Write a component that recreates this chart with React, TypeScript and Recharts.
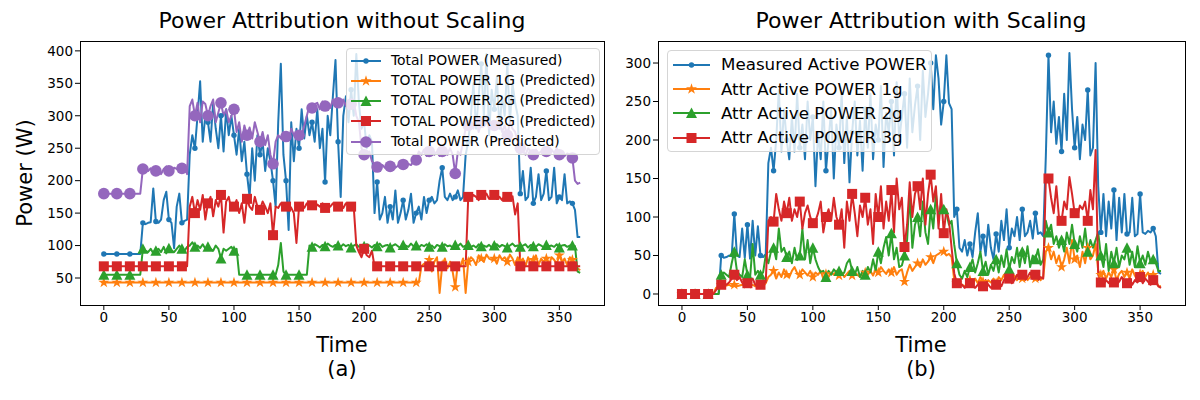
import React from 'react'
import { Line, LineChart, XAxis, YAxis } from 'recharts'

const FONT = '"DejaVu Sans", sans-serif'
const BLUE = '#1f77b4'
const ORANGE = '#ff7f0e'
const GREEN = '#2ca02c'
const RED = '#d62728'
const PURPLE = '#9467bd'

// sample grid: every 2nd time step, 0..366
const TIME = Array.from({ length: 184 }, (_, i) => i * 2)
const X_TICKS = [0, 50, 100, 150, 200, 250, 300, 350]
const LEFT_Y_TICKS = [50, 100, 150, 200, 250, 300, 350, 400]
const RIGHT_Y_TICKS = [0, 50, 100, 150, 200, 250, 300]

// ---- (a) without scaling ----
const totalMeasured = [
  87, 87, 87, 87, 87, 87, 87, 87, 87, 87,
  87, 87, 87, 87, 87, 135, 133, 135, 136, 188,
  137, 135, 140, 170, 183, 140, 135, 96, 160, 180,
  135, 138, 140, 240, 270, 250, 300, 353, 260, 300,
  290, 260, 320, 280, 250, 300, 245, 310, 270, 300,
  270, 240, 280, 230, 260, 210, 175, 250, 200, 270,
  240, 260, 215, 250, 230, 200, 160, 290, 380, 240,
  200, 124, 290, 230, 280, 250, 310, 265, 300, 270,
  290, 260, 310, 250, 280, 198, 300, 270, 330, 386,
  260, 175, 300, 330, 290, 340, 300, 395, 320, 280,
  290, 250, 270, 260, 150, 198, 140, 150, 175, 135,
  160, 140, 185, 135, 150, 170, 140, 155, 180, 135,
  150, 160, 140, 175, 150, 170, 175, 165, 170, 200,
  220, 175, 170, 180, 170, 175, 185, 170, 175, 240,
  260, 300, 350, 280, 330, 380, 300, 395, 270, 340,
  310, 360, 280, 330, 300, 380, 290, 350, 320, 300,
  180, 215, 170, 175, 220, 165, 175, 210, 170, 180,
  215, 170, 175, 220, 165, 175, 170, 210, 165, 168,
  165, 155, 113, 113,
]

const total1G = [
  43, 43, 43, 43, 43, 43, 43, 43, 43, 43,
  43, 43, 43, 43, 43, 43, 43, 43, 43, 43,
  43, 43, 43, 43, 43, 43, 43, 43, 43, 43,
  43, 43, 43, 43, 43, 43, 43, 43, 43, 43,
  43, 43, 43, 43, 43, 43, 43, 43, 43, 43,
  43, 43, 43, 43, 43, 43, 43, 43, 43, 43,
  43, 43, 43, 43, 43, 43, 43, 43, 43, 43,
  43, 43, 43, 43, 43, 43, 43, 43, 43, 43,
  43, 43, 43, 43, 43, 43, 43, 43, 43, 43,
  43, 43, 43, 43, 43, 43, 43, 43, 43, 43,
  43, 43, 43, 43, 43, 43, 43, 43, 43, 43,
  43, 43, 43, 43, 43, 43, 43, 43, 43, 43,
  43, 43, 68, 72, 65, 78, 60, 75, 82, 27,
  70, 80, 65, 75, 60, 36, 72, 68, 80, 27,
  75, 82, 78, 70, 85, 80, 75, 86, 80, 78,
  80, 72, 85, 78, 82, 75, 86, 80, 70, 82,
  75, 80, 68, 82, 72, 78, 85, 70, 80, 75,
  80, 70, 82, 78, 72, 85, 75, 80, 70, 82,
  78, 72, 65, 62,
]

const total2G = [
  55, 55, 55, 55, 55, 55, 55, 55, 55, 55,
  55, 55, 55, 55, 55, 95, 92, 90, 95, 88,
  92, 95, 90, 98, 88, 96, 92, 90, 95, 100,
  95, 92, 98, 100, 105, 98, 100, 96, 102, 95,
  98, 95, 92, 100, 95, 80, 95, 92, 95, 98,
  92, 95, 55, 55, 55, 55, 55, 55, 55, 55,
  55, 55, 55, 55, 55, 55, 55, 70, 104, 60,
  55, 55, 55, 55, 55, 55, 55, 55, 55, 100,
  98, 102, 100, 97, 101, 99, 103, 100, 98, 101,
  100, 98, 102, 99, 101, 97, 100, 102, 98, 100,
  99, 102, 100, 97, 101, 99, 103, 98, 100, 101,
  97, 100, 102, 99, 96, 101, 100, 98, 103, 99,
  100, 97, 101, 99, 102, 98, 100, 96, 101, 99,
  98, 102, 99, 100, 97, 101, 99, 103, 98, 100,
  101, 98, 100, 97, 102, 99, 100, 98, 101, 97,
  100, 102, 98, 101, 99, 97, 100, 103, 99, 100,
  98, 100, 102, 97, 101, 99, 98, 102, 100, 97,
  101, 99, 100, 98, 102, 97, 100, 101, 98, 100,
  100, 99, 60, 58,
]

const total3G = [
  68, 68, 68, 68, 68, 68, 68, 68, 68, 68,
  68, 68, 68, 68, 68, 68, 68, 68, 68, 68,
  68, 68, 68, 68, 68, 68, 68, 68, 68, 68,
  68, 68, 68, 160, 175, 150, 170, 155, 178, 140,
  165, 175, 145, 170, 160, 178, 120, 168, 175, 155,
  160, 170, 150, 165, 135, 172, 160, 155, 175, 160,
  155, 168, 160, 150, 165, 116, 160, 158, 165, 162,
  160, 163, 158, 150, 104, 160, 162, 158, 165, 160,
  162, 158, 163, 160, 165, 158, 162, 160, 165, 162,
  160, 163, 158, 165, 162, 160, 160, 100, 90, 82,
  95, 85, 82, 92, 68, 68, 68, 68, 68, 68,
  68, 68, 68, 68, 68, 68, 68, 68, 68, 68,
  68, 68, 68, 68, 68, 68, 68, 68, 68, 68,
  68, 68, 68, 68, 68, 68, 68, 68, 68, 68,
  175, 172, 178, 175, 170, 178, 175, 180, 172, 175,
  178, 172, 175, 170, 178, 175, 172, 176, 148, 165,
  68, 68, 68, 68, 68, 68, 68, 68, 68, 68,
  68, 68, 68, 68, 68, 68, 68, 68, 68, 68,
  68, 68, 68, 68,
]

const totalPredicted = [
  180, 180, 180, 180, 180, 180, 180, 180, 180, 180,
  180, 180, 180, 180, 180, 218, 217, 215, 219, 213,
  215, 220, 210, 218, 222, 215, 212, 220, 218, 217,
  219, 222, 210, 315, 325, 300, 320, 290, 322, 318,
  300, 315, 325, 290, 305, 320, 300, 310, 290, 300,
  310, 275, 290, 260, 285, 270, 282, 265, 290, 275,
  260, 275, 255, 270, 240, 226, 260, 270, 265, 275,
  268, 262, 280, 270, 265, 270, 268, 285, 300, 316,
  312, 318, 320, 310, 322, 315, 320, 312, 325, 318,
  320, 318, 325, 315, 320, 318, 322, 300, 290, 250,
  240, 237, 245, 230, 225, 221, 222, 224, 220, 222,
  222, 225, 220, 223, 221, 225, 220, 226, 224, 230,
  232, 245, 240, 248, 238, 245, 250, 240, 245, 238,
  245, 242, 240, 250, 240, 211, 245, 240, 260, 280,
  285, 290, 280, 295, 275, 290, 285, 300, 280, 290,
  285, 280, 290, 275, 285, 270, 290, 280, 275, 260,
  250, 245, 240, 250, 245, 240, 248, 242, 245, 250,
  245, 240, 248, 243, 250, 240, 245, 238, 242, 240,
  235, 200, 195, 197,
]

// ---- (b) with scaling ----
const activeMeasured = [
  0, 0, 0, 0, 0, 0, 0, 0, 0, 0,
  0, 0, 0, 0, 0, 50, 47, 48, 50, 49,
  104, 50, 48, 85, 47, 90, 46, 95, 50, 88,
  50, 48, 52, 170, 190, 160, 200, 265, 185, 240,
  200, 175, 230, 185, 260, 190, 220, 175, 250, 200,
  230, 140, 210, 175, 250, 160, 200, 240, 150, 220,
  190, 260, 170, 230, 145, 210, 250, 180, 225, 160,
  240, 190, 260, 175, 220, 200, 270, 165, 235, 210,
  250, 180, 275, 200, 230, 260, 190, 280, 210, 245,
  270, 200, 290, 230, 260, 300, 240, 310, 280, 220,
  250, 310, 248, 240, 100, 110, 60, 55, 70, 50,
  65, 48, 80, 105, 55, 75, 50, 90, 60, 45,
  78, 55, 95, 70, 110, 60, 85, 75, 100, 70,
  110, 75, 80, 95, 72, 105, 78, 80, 75, 180,
  310, 210, 250, 195, 230, 185, 260, 200, 313, 240,
  190, 230, 175, 220, 200, 265, 180, 190, 300, 140,
  80, 130, 75, 120, 85, 135, 70, 125, 80, 130,
  78, 80, 125, 75, 78, 130, 80, 78, 82, 80,
  85, 75, 28, 26,
]

const attr1g = [
  0, 0, 0, 0, 0, 0, 0, 0, 0, 0,
  0, 0, 0, 8, 10, 12, 10, 11, 12, 10,
  12, 10, 11, 12, 10, 13, 11, 12, 10, 12,
  12, 10, 14, 22, 25, 30, 20, 28, 22, 32,
  25, 22, 30, 35, 27, 25, 32, 28, 24, 30,
  22, 28, 25, 30, 20, 26, 22, 28, 25, 30,
  24, 28, 22, 26, 30, 24, 28, 25, 22, 27,
  28, 25, 30, 24, 32, 28, 35, 30, 26, 32,
  28, 35, 25, 30, 32, 16, 28, 38, 30, 35,
  40, 35, 45, 38, 42, 48, 40, 50, 52, 55,
  55, 50, 52, 48, 18, 14, 15, 12, 10, 14,
  18, 12, 20, 14, 22, 16, 12, 18, 15, 20,
  14, 22, 18, 25, 16, 20, 15, 24, 18, 22,
  20, 25, 18, 22, 26, 20, 24, 18, 22, 55,
  60, 45, 55, 40, 50, 35, 45, 60, 40, 70,
  45, 50, 35, 55, 40, 60, 45, 50, 65, 30,
  25, 30, 20, 28, 22, 32, 18, 26, 30, 22,
  28, 20, 32, 24, 18, 26, 30, 22, 28, 20,
  25, 18, 10, 10,
]

const attr2g = [
  0, 0, 0, 0, 0, 0, 0, 0, 0, 0,
  0, 0, 0, 0, 0, 25, 28, 25, 22, 40,
  55, 30, 25, 22, 45, 25, 20, 65, 25, 30,
  25, 28, 50, 40, 55, 60, 45, 85, 55, 60,
  48, 55, 40, 60, 44, 50, 85, 45, 70, 40,
  60, 45, 35, 28, 30, 22, 30, 25, 32, 28,
  30, 25, 28, 40, 45, 30, 25, 35, 22, 30,
  25, 35, 28, 45, 30, 55, 40, 60, 74, 50,
  79, 45, 60, 35, 37, 50, 70, 130, 60, 90,
  100, 75, 120, 80, 65, 110, 85, 130, 100, 115,
  110, 105, 90, 95, 64, 40, 25, 20, 30, 22,
  35, 45, 28, 40, 55, 30, 42, 25, 38, 30,
  45, 28, 50, 35, 58, 32, 48, 40, 60, 35,
  55, 40, 62, 35, 50, 45, 58, 38, 45, 95,
  80, 90, 65, 75, 60, 70, 55, 80, 65, 90,
  65, 55, 75, 60, 85, 55, 70, 60, 70, 80,
  50, 35, 65, 30, 55, 40, 60, 35, 50, 45,
  60, 38, 55, 35, 62, 40, 50, 38, 55, 42,
  45, 40, 30, 30,
]

const attr3g = [
  0, 0, 0, 0, 0, 0, 0, 0, 0, 0,
  0, 0, 0, 5, 10, 12, 14, 12, 15, 20,
  25, 18, 22, 15, 10, 14, 16, 20, 12, 10,
  12, 18, 15, 95, 100, 94, 130, 110, 95, 120,
  105, 125, 95, 110, 100, 120, 85, 105, 115, 100,
  92, 95, 105, 120, 80, 100, 110, 95, 125, 100,
  90, 110, 60, 120, 95, 130, 105, 75, 115, 100,
  125, 90, 110, 65, 130, 100, 140, 85, 120, 95,
  135, 80, 150, 110, 125, 61, 90, 145, 100, 130,
  140, 110, 150, 90, 130, 155, 120, 140, 85, 130,
  79, 110, 95, 60, 27, 14, 10, 12, 8, 12,
  14, 10, 8, 12, 15, 10, 18, 12, 8, 10,
  12, 15, 10, 18, 22, 20, 14, 18, 25, 20,
  25, 18, 22, 28, 20, 25, 18, 22, 20, 150,
  150, 125, 105, 140, 100, 95, 120, 110, 152, 130,
  105, 100, 115, 110, 120, 95, 135, 110, 187, 25,
  15, 12, 18, 14, 20, 15, 12, 16, 22, 18,
  14, 20, 12, 18, 15, 22, 14, 20, 16, 12,
  18, 15, 10, 8,
]

type Shape = 'dot' | 'circle' | 'star' | 'triangle' | 'square'

interface Series {
  key: string
  name: string
  color: string
  shape: Shape
}

const LEFT_SERIES: Series[] = [
  { key: 'measured', name: 'Total POWER (Measured)', color: BLUE, shape: 'dot' },
  { key: 'g1', name: 'TOTAL POWER 1G (Predicted)', color: ORANGE, shape: 'star' },
  { key: 'g2', name: 'TOTAL POWER 2G (Predicted)', color: GREEN, shape: 'triangle' },
  { key: 'g3', name: 'TOTAL POWER 3G (Predicted)', color: RED, shape: 'square' },
  { key: 'predicted', name: 'Total POWER (Predicted)', color: PURPLE, shape: 'circle' },
]

const RIGHT_SERIES: Series[] = [
  { key: 'measured', name: 'Measured Active POWER', color: BLUE, shape: 'dot' },
  { key: 'g1', name: 'Attr Active POWER 1g', color: ORANGE, shape: 'star' },
  { key: 'g2', name: 'Attr Active POWER 2g', color: GREEN, shape: 'triangle' },
  { key: 'g3', name: 'Attr Active POWER 3g', color: RED, shape: 'square' },
]

const leftData = TIME.map((t, i) => ({
  t,
  measured: totalMeasured[i],
  g1: total1G[i],
  g2: total2G[i],
  g3: total3G[i],
  predicted: totalPredicted[i],
}))

const rightData = TIME.map((t, i) => ({
  t,
  measured: activeMeasured[i],
  g1: attr1g[i],
  g2: attr2g[i],
  g3: attr3g[i],
}))

function starPoints(x: number, y: number, r: number) {
  const pts: string[] = []
  for (let k = 0; k < 10; k++) {
    const rr = k % 2 === 0 ? r : r * 0.382
    const a = -Math.PI / 2 + (k * Math.PI) / 5
    pts.push(`${x + rr * Math.cos(a)},${y + rr * Math.sin(a)}`)
  }
  return pts.join(' ')
}

function Marker({ shape, x, y, color }: { shape: Shape; x: number; y: number; color: string }) {
  switch (shape) {
    case 'dot':
      return <circle cx={x} cy={y} r={2.7} fill={color} />
    case 'circle':
      return <circle cx={x} cy={y} r={5.8} fill={color} />
    case 'square':
      return <rect x={x - 5} y={y - 5} width={10} height={10} fill={color} />
    case 'triangle':
      return <polygon points={`${x},${y - 5.5} ${x - 5.5},${y + 5} ${x + 5.5},${y + 5}`} fill={color} />
    case 'star':
      return <polygon points={starPoints(x, y, 5.8)} fill={color} />
  }
}

// matplotlib markevery=10 -> every 5th sample on the 2-step grid
const markEvery = (shape: Shape, color: string) => (props: any) => {
  const { cx, cy, index } = props
  if (index % 5 !== 0 || cx == null || cy == null) return <g key={`n${index}`} />
  return (
    <g key={`m${index}`}>
      <Marker shape={shape} x={cx} y={cy} color={color} />
    </g>
  )
}

const TICK = { fill: '#000', fontSize: 13.5, fontFamily: FONT }

function Panel(props: {
  left: number
  width: number
  margin: { top: number; right: number; bottom: number; left: number }
  data: Record<string, number>[]
  series: Series[]
  yDomain: [number, number]
  yTicks: number[]
}) {
  const { left, width, margin, data, series, yDomain, yTicks } = props
  return (
    <div style={{ position: 'absolute', left, top: 0 }}>
      <LineChart width={width} height={400} data={data} margin={margin}>
        <XAxis
          dataKey="t"
          type="number"
          domain={[-18.3, 384.3]}
          ticks={X_TICKS}
          interval={0}
          allowDataOverflow
          axisLine={false}
          tickLine={{ stroke: '#000' }}
          tickSize={5}
          tick={TICK}
          height={30}
        />
        <YAxis
          type="number"
          domain={yDomain}
          ticks={yTicks}
          interval={0}
          allowDataOverflow
          axisLine={false}
          tickLine={{ stroke: '#000' }}
          tickSize={5}
          tick={TICK}
          width={50}
        />
        {series.map((s) => (
          <Line
            key={s.key}
            type="linear"
            dataKey={s.key}
            stroke={s.color}
            strokeWidth={2}
            strokeLinejoin="round"
            dot={markEvery(s.shape, s.color)}
            activeDot={false}
            isAnimationActive={false}
          />
        ))}
      </LineChart>
    </div>
  )
}

function LegendBox(props: {
  series: Series[]
  left: number
  top: number
  width: number
  height: number
  firstRow: number
  rowStep: number
  handleLeft: number
  handleWidth: number
  textLeft: number
  fontSize: number
}) {
  const { series, left, top, width, height, firstRow, rowStep, handleLeft, handleWidth, textLeft, fontSize } = props
  return (
    <div
      style={{
        position: 'absolute',
        left,
        top,
        width,
        height,
        boxSizing: 'border-box',
        background: 'rgba(255,255,255,0.8)',
        border: '1px solid #d5d5d5',
        borderRadius: 4,
        fontFamily: FONT,
        fontSize,
        color: '#000',
      }}
    >
      {series.map((s, i) => {
        const cy = firstRow + i * rowStep
        return (
          <div key={s.key}>
            <svg
              width={handleWidth}
              height={16}
              style={{ position: 'absolute', left: handleLeft, top: cy - 8 }}
            >
              <line x1={0} y1={8} x2={handleWidth} y2={8} stroke={s.color} strokeWidth={2} />
              <Marker shape={s.shape} x={handleWidth / 2} y={8} color={s.color} />
            </svg>
            <div
              style={{
                position: 'absolute',
                left: textLeft,
                top: cy - fontSize * 0.62,
                lineHeight: `${fontSize * 1.2}px`,
                whiteSpace: 'nowrap',
              }}
            >
              {s.name}
            </div>
          </div>
        )
      })}
    </div>
  )
}

const textStyle: React.CSSProperties = {
  position: 'absolute',
  fontFamily: FONT,
  color: '#000',
  whiteSpace: 'nowrap',
  transform: 'translateX(-50%)',
  lineHeight: '24px',
}

export default function App() {
  return (
    <div
      style={{
        position: 'fixed',
        left: 0,
        top: 0,
        width: 1200,
        height: 400,
        background: '#fff',
        overflow: 'hidden',
      }}
    >
      <Panel
        left={0}
        width={620}
        margin={{ top: 41, right: 16, bottom: 65, left: 30 }}
        data={leftData}
        series={LEFT_SERIES}
        yDomain={[8.4, 415.2]}
        yTicks={LEFT_Y_TICKS}
      />
      <Panel
        left={600}
        width={600}
        margin={{ top: 41, right: 15, bottom: 65, left: 8 }}
        data={rightData}
        series={RIGHT_SERIES}
        yDomain={[-14.3, 328.6]}
        yTicks={RIGHT_Y_TICKS}
      />

      {/* axes frames */}
      <div style={{ position: 'absolute', left: 79.5, top: 40.5, width: 525, height: 265, border: '1.1px solid #000', boxSizing: 'border-box' }} />
      <div style={{ position: 'absolute', left: 657.5, top: 40.5, width: 528, height: 265, border: '1.1px solid #000', boxSizing: 'border-box' }} />

      <LegendBox
        series={LEFT_SERIES}
        left={346}
        top={48}
        width={254}
        height={107}
        firstRow={11.5}
        rowStep={20.3}
        handleLeft={4}
        handleWidth={30}
        textLeft={44}
        fontSize={13.9}
      />
      <LegendBox
        series={RIGHT_SERIES}
        left={667}
        top={50}
        width={265}
        height={102}
        firstRow={13.5}
        rowStep={24.4}
        handleLeft={4.5}
        handleWidth={37}
        textLeft={53}
        fontSize={16.7}
      />

      <div style={{ ...textStyle, left: 342, top: 9, fontSize: 22 }}>Power Attribution without Scaling</div>
      <div style={{ ...textStyle, left: 921, top: 9, fontSize: 22 }}>Power Attribution with Scaling</div>

      <div style={{ ...textStyle, left: 342, top: 333, fontSize: 21 }}>Time</div>
      <div style={{ ...textStyle, left: 342, top: 357, fontSize: 21 }}>(a)</div>
      <div style={{ ...textStyle, left: 921, top: 333, fontSize: 21 }}>Time</div>
      <div style={{ ...textStyle, left: 921, top: 357, fontSize: 21 }}>(b)</div>

      <div
        style={{
          position: 'absolute',
          left: 25,
          top: 173,
          fontFamily: FONT,
          fontSize: 21,
          lineHeight: '24px',
          whiteSpace: 'nowrap',
          transform: 'translate(-50%, -50%) rotate(-90deg)',
        }}
      >
        Power (W)
      </div>
    </div>
  )
}
